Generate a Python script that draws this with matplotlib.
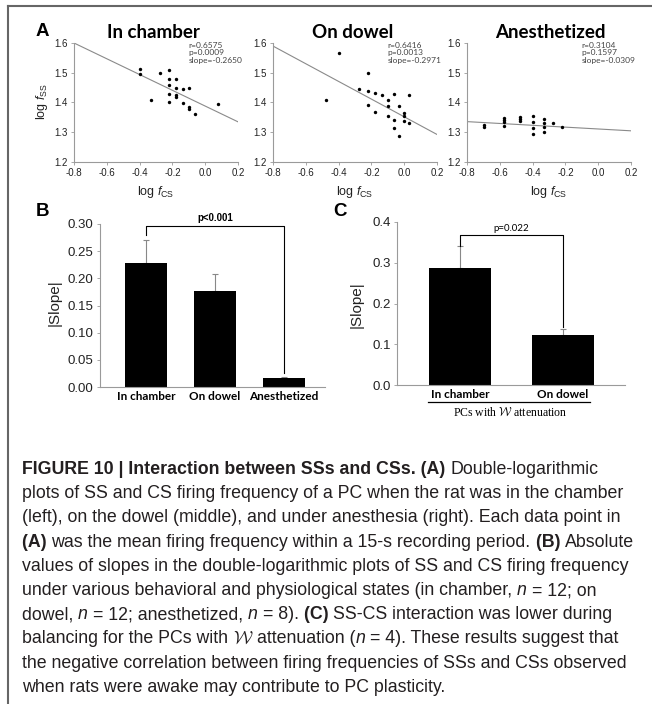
import matplotlib
matplotlib.use('Agg')
import matplotlib.pyplot as plt
from matplotlib.lines import Line2D
import numpy as np

plt.rcParams['font.family'] = ['Liberation Sans', 'DejaVu Sans']
plt.rcParams['mathtext.fontset'] = 'custom'
plt.rcParams['mathtext.rm'] = 'Liberation Sans'
plt.rcParams['mathtext.it'] = 'Liberation Sans:italic'
plt.rcParams['mathtext.bf'] = 'Liberation Sans:bold'

# log CS rate vs log SS rate, one point per 15-s window
chamber_x = [-0.398, -0.398, -0.273, -0.222, -0.222, -0.222, -0.222, -0.222, -0.331, -0.176,
             -0.176, -0.176, -0.176, -0.135, -0.135, -0.097, -0.097, -0.097, -0.062, 0.079]
chamber_y = [1.513, 1.496, 1.498, 1.508, 1.480, 1.459, 1.429, 1.402, 1.410, 1.478,
             1.450, 1.425, 1.418, 1.445, 1.398, 1.449, 1.385, 1.378, 1.362, 1.396]

dowel_x = [-0.398, -0.477, -0.222, -0.222, -0.222, -0.273, -0.176, -0.176, -0.135, -0.097, -0.097,
           -0.097, -0.062, -0.062, -0.062, -0.030, -0.030, 0.0, 0.0, 0.0, 0.028, 0.028]
dowel_y = [1.565, 1.410, 1.498, 1.438, 1.391, 1.446, 1.433, 1.368, 1.424, 1.407, 1.387,
           1.356, 1.430, 1.342, 1.314, 1.387, 1.288, 1.365, 1.354, 1.337, 1.424, 1.331]

anest_x = [-0.699, -0.699, -0.574, -0.574, -0.574, -0.574, -0.477, -0.477, -0.477, -0.398,
           -0.398, -0.398, -0.398, -0.331, -0.331, -0.331, -0.331, -0.273, -0.222]
anest_y = [1.325, 1.318, 1.348, 1.340, 1.333, 1.320, 1.350, 1.343, 1.337, 1.355,
           1.335, 1.315, 1.295, 1.345, 1.330, 1.318, 1.300, 1.330, 1.318]

scatter_titles = ['In chamber', 'On dowel', 'Anesthetized']
r_vals = ['0.6575', '0.6416', '0.3104']
p_vals = ['0.0009', '0.0013', '0.1597']
slopes = [-0.2650, -0.2971, -0.0309]
intercepts = [1.388, 1.352, 1.311]

# |slope| summary
states = ['In chamber', 'On dowel', 'Anesthetized']
slope_mean = [0.229, 0.177, 0.017]
slope_err = [0.041, 0.031, 0.002]

w_states = ['In chamber', 'On dowel']
w_mean = [0.286, 0.122]
w_err = [0.055, 0.015]

W, H = 652, 704
fig = plt.figure(figsize=(W / 100, H / 100), dpi=100)


def fx(px):
    return px / W


def fy(py):
    return 1 - py / H


GRAY = '#9a9a9a'
TXT = '#222222'

# --- A: scatter plots ---
a_lefts = [74, 273, 467]
data = [(chamber_x, chamber_y), (dowel_x, dowel_y), (anest_x, anest_y)]
title_x = [153, 353, 550]
for i in range(3):
    ax = fig.add_axes([fx(a_lefts[i]), fy(162), fx(164), 119 / H])
    xs, ys = data[i]
    ax.scatter(xs, ys, s=6, color='black', linewidths=0, zorder=3)
    lx = np.array([-0.8, 0.2])
    ax.plot(lx, intercepts[i] + slopes[i] * lx, color='#8a8a8a', lw=0.8)
    ax.set_xlim(-0.8, 0.2)
    ax.set_ylim(1.2, 1.6)
    ax.set_xticks([-0.8, -0.6, -0.4, -0.2, 0.0, 0.2])
    ax.set_xticklabels(['-0.8', '-0.6', '-0.4', '-0.2', '0.0', '0.2'])
    ax.set_yticks([1.2, 1.3, 1.4, 1.5, 1.6])
    ax.set_yticklabels(['1.2', '1.3', '1.4', '1.5', '1.6'])
    for s in ['top', 'right']:
        ax.spines[s].set_visible(False)
    for s in ['left', 'bottom']:
        ax.spines[s].set_color(GRAY)
        ax.spines[s].set_linewidth(0.8)
    ax.tick_params(length=2.5, width=0.6, color=GRAY, labelsize=7, labelcolor=TXT, pad=2)
    ax.text(0.70, 1.01, 'r=%s\np=%s\nslope=%.4f' % (r_vals[i], p_vals[i], slopes[i]),
            transform=ax.transAxes, va='top', ha='left', fontsize=6,
            family='Lato', color='#444444', linespacing=1.1)
    fig.text(fx(title_x[i]), fy(32), scatter_titles[i], ha='center', va='center',
             fontsize=13.5, fontweight='bold', family='Lato')
    fig.text(fx(a_lefts[i] + 82), fy(192), r'log $f_{\rm CS}$', ha='center', va='center',
             fontsize=9, color=TXT)

fig.text(fx(42), fy(102), r'log $f_{\rm SS}$', rotation=90, ha='center', va='center',
         fontsize=9, color=TXT)

# --- B: |slope| per state ---
axb = fig.add_axes([fx(100), fy(387), fx(225), 163 / H])
xb = np.arange(len(states))
axb.bar(xb, slope_mean, width=0.6, color='black', zorder=2)
axb.errorbar(xb, slope_mean, yerr=[[0] * 3, slope_err], fmt='none', ecolor='#888888',
             elinewidth=0.8, capsize=2.5, capthick=0.8, zorder=1)
axb.set_xlim(-0.667, 2.594)
axb.set_ylim(0, 0.30)
axb.set_yticks(np.arange(0, 0.301, 0.05))
axb.set_yticklabels(['%.2f' % v for v in np.arange(0, 0.301, 0.05)])
axb.set_xticks(xb)
axb.set_xticklabels(states, fontweight='bold', family='Lato', fontsize=8.5)
axb.tick_params(axis='x', length=0, pad=3)
axb.tick_params(axis='y', length=2.5, width=0.6, color=GRAY, labelsize=9.5, labelcolor=TXT, pad=2)
for s in ['top', 'right']:
    axb.spines[s].set_visible(False)
for s in ['left', 'bottom']:
    axb.spines[s].set_color(GRAY)
    axb.spines[s].set_linewidth(0.8)
axb.plot([0, 0, 2, 2], [0.280, 0.296, 0.296, 0.026], color='black', lw=0.8, clip_on=False)
axb.text(1.0, 0.302, 'p<0.001', ha='center', va='bottom', fontsize=7, fontweight='bold')
fig.text(fx(55), fy(303), '|Slope|', rotation=90, ha='center', va='center', fontsize=11,
         color=TXT)

# --- C: PCs with W attenuation ---
axc = fig.add_axes([fx(397), fy(385), fx(228), 163 / H])
xc = np.arange(len(w_states))
axc.bar(xc, w_mean, width=0.6, color='black', zorder=2)
axc.errorbar(xc, w_mean, yerr=[[0] * 2, w_err], fmt='none', ecolor='#888888',
             elinewidth=0.8, capsize=2.5, capthick=0.8, zorder=1)
axc.set_xlim(-0.612, 1.602)
axc.set_ylim(0, 0.4)
axc.set_yticks([0.0, 0.1, 0.2, 0.3, 0.4])
axc.set_yticklabels(['0.0', '0.1', '0.2', '0.3', '0.4'])
axc.set_xticks(xc)
axc.set_xticklabels(w_states, fontweight='bold', family='Lato', fontsize=8.5)
axc.tick_params(axis='x', length=0, pad=3)
axc.tick_params(axis='y', length=2.5, width=0.6, color=GRAY, labelsize=9.5, labelcolor=TXT, pad=2)
for s in ['top', 'right']:
    axc.spines[s].set_visible(False)
for s in ['left', 'bottom']:
    axc.spines[s].set_color(GRAY)
    axc.spines[s].set_linewidth(0.8)
axc.plot([0, 0, 1, 1], [0.341, 0.368, 0.368, 0.142], color='black', lw=0.8, clip_on=False)
axc.text(0.5, 0.374, 'p=0.022', ha='center', va='bottom', fontsize=7, family='Lato')
fig.text(fx(357), fy(305), '|Slope|', rotation=90, ha='center', va='center', fontsize=11,
         color=TXT)
fig.add_artist(Line2D([fx(428), fx(590)], [fy(402), fy(402)], color='black', lw=0.9))
fig.text(fx(510), fy(413), r'PCs with $\mathcal{W}$ attenuation', ha='center', va='center',
         fontsize=8.5, family='Liberation Serif', math_fontfamily='cm')

# panel letters
for lab, x, y in [('A', 42, 31), ('B', 43, 212), ('C', 340, 212)]:
    fig.text(fx(x), fy(y), lab, ha='center', va='center', fontsize=13.5, fontweight='bold')

# frame
fig.add_artist(Line2D([fx(8), 1], [fy(6), fy(6)], color='#666666', lw=1.5))
fig.add_artist(Line2D([fx(8), fx(8)], [0, fy(6)], color='#666666', lw=1.5))

# caption, drawn run by run so bold/italic parts line up
caption = [
    [('FIGURE 10 | Interaction between SSs and CSs. (A) ', 'b'), ('Double-logarithmic', '')],
    [('plots of SS and CS firing frequency of a PC when the rat was in the chamber', '')],
    [('(left), on the dowel (middle), and under anesthesia (right). Each data point in', '')],
    [('(A) ', 'b'), ('was the mean firing frequency within a 15-s recording period. ', ''),
     ('(B) ', 'b'), ('Absolute', '')],
    [('values of slopes in the double-logarithmic plots of SS and CS firing frequency', '')],
    [('under various behavioral and physiological states (in chamber, ', ''), ('n ', 'i'),
     ('= 12; on', '')],
    [('dowel, ', ''), ('n ', 'i'), ('= 12; anesthetized, ', ''), ('n ', 'i'), ('= 8). ', ''),
     ('(C) ', 'b'), ('SS-CS interaction was lower during', '')],
    [('balancing for the PCs with ', ''), (r'$\mathcal{W}$ ', 'w'), ('attenuation (', ''),
     ('n ', 'i'), ('= 4). These results suggest that', '')],
    [('the negative correlation between firing frequencies of SSs and CSs observed', '')],
    [('when rats were awake may contribute to PC plasticity.', '')],
]

renderer = fig.canvas.get_renderer()
CAP_SIZE = 12.8


def run_kwargs(style):
    kw = dict(fontsize=CAP_SIZE, color='#231f20', va='baseline', ha='left')
    if style == 'b':
        kw['fontweight'] = 'bold'
    elif style == 'i':
        kw['style'] = 'italic'
    elif style == 'w':
        kw['math_fontfamily'] = 'cm'
    return kw


def advance(s, kw):
    t1 = fig.text(0, 0, s + 'x', **kw)
    t2 = fig.text(0, 0, 'x', **kw)
    w = t1.get_window_extent(renderer).width - t2.get_window_extent(renderer).width
    t1.remove()
    t2.remove()
    return w


for k, line in enumerate(caption):
    x = 22
    y = 474 + 24.2 * k
    for s, style in line:
        kw = run_kwargs(style)
        fig.text(fx(x), fy(y), s, **kw)
        x += advance(s, kw)

fig.savefig('out.png', dpi=100)
